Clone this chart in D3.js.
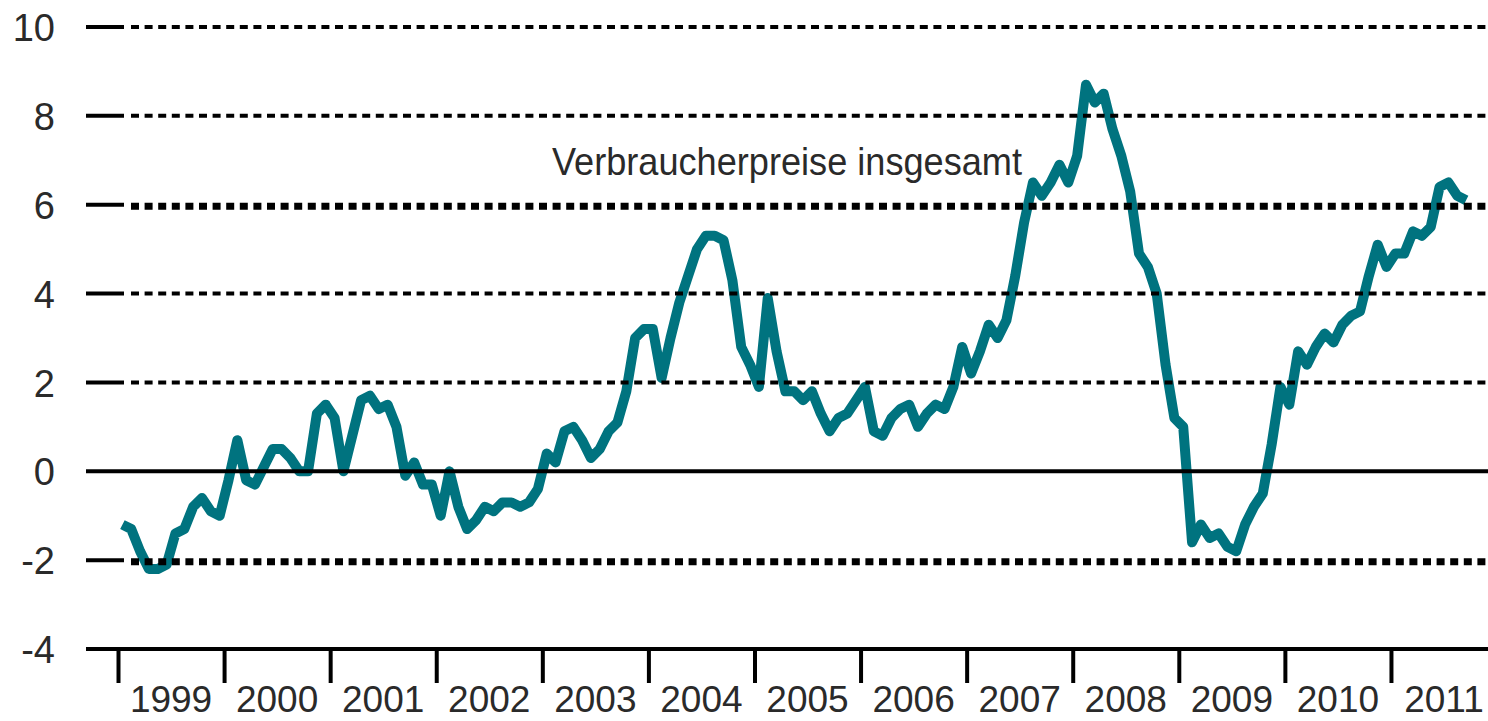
<!DOCTYPE html>
<html>
<head>
<meta charset="utf-8">
<script src="https://cdn.jsdelivr.net/npm/d3@7"></script>
<style>
  html, body { margin: 0; padding: 0; background: #fff; }
  svg { display: block; }
  text { font-family: "Liberation Sans", Arial, sans-serif; fill: #2a2a2a; }
</style>
</head>
<body>
<svg id="chart" width="1488" height="721"></svg>
<script>
// Verbraucherpreise insgesamt, Veränderung gegenüber Vorjahr in % (monthly)
const years = [1999, 2000, 2001, 2002, 2003, 2004, 2005, 2006, 2007, 2008, 2009, 2010, 2011];
const cpi1999 = [-1.2, -1.3, -1.8, -2.2, -2.2, -2.1, -1.4, -1.3, -0.8, -0.6, -0.9, -1.0];
const cpi2000 = [-0.2, 0.7, -0.2, -0.3, 0.1, 0.5, 0.5, 0.3, 0.0, 0.0, 1.3, 1.5];
const cpi2001 = [1.2, 0.0, 0.8, 1.6, 1.7, 1.4, 1.5, 1.0, -0.1, 0.2, -0.3, -0.3];
const cpi2002 = [-1.0, 0.0, -0.8, -1.3, -1.1, -0.8, -0.9, -0.7, -0.7, -0.8, -0.7, -0.4];
const cpi2003 = [0.4, 0.2, 0.9, 1.0, 0.7, 0.3, 0.5, 0.9, 1.1, 1.8, 3.0, 3.2];
const cpi2004 = [3.2, 2.1, 3.0, 3.8, 4.4, 5.0, 5.3, 5.3, 5.2, 4.3, 2.8, 2.4];
const cpi2005 = [1.9, 3.9, 2.7, 1.8, 1.8, 1.6, 1.8, 1.3, 0.9, 1.2, 1.3, 1.6];
const cpi2006 = [1.9, 0.9, 0.8, 1.2, 1.4, 1.5, 1.0, 1.3, 1.5, 1.4, 1.9, 2.8];
const cpi2007 = [2.2, 2.7, 3.3, 3.0, 3.4, 4.4, 5.6, 6.5, 6.2, 6.5, 6.9, 6.5];
const cpi2008 = [7.1, 8.7, 8.3, 8.5, 7.7, 7.1, 6.3, 4.9, 4.6, 4.0, 2.4, 1.2];
const cpi2009 = [1.0, -1.6, -1.2, -1.5, -1.4, -1.7, -1.8, -1.2, -0.8, -0.5, 0.6, 1.9];
const cpi2010 = [1.5, 2.7, 2.4, 2.8, 3.1, 2.9, 3.3, 3.5, 3.6, 4.4, 5.1, 4.6];
const cpi2011 = [4.9, 4.9, 5.4, 5.3, 5.5, 6.4, 6.5, 6.2, 6.1];
const yTicks = [-4, -2, 0, 2, 4, 6, 8, 10];
const seriesLabel = "Verbraucherpreise insgesamt";

const seriesByYear = [cpi1999, cpi2000, cpi2001, cpi2002, cpi2003, cpi2004, cpi2005,
                      cpi2006, cpi2007, cpi2008, cpi2009, cpi2010, cpi2011];
const data = [];
seriesByYear.forEach((arr, yi) => {
  arr.forEach((v, m) => data.push({ t: years[yi] + (m + 0.5) / 12, v: v }));
});

const svg = d3.select("#chart");
const W = 1488;
const x = d3.scaleLinear().domain([1999, 2012]).range([118, 118 + 13 * 106.08]);
const y = d3.scaleLinear().domain([-4, 10]).range([649, 27]);

// data line
const line = d3.line().x(d => x(d.t)).y(d => y(d.v));
svg.append("path")
  .datum(data)
  .attr("d", line)
  .attr("fill", "none")
  .attr("stroke", "#00737f")
  .attr("stroke-width", 10)
  .attr("stroke-linejoin", "round")
  .attr("stroke-linecap", "butt");

// gridlines (drawn over the line as in the original)
const grid = svg.append("g");
yTicks.forEach(t => {
  const yy = y(t);
  if (t === 0 || t === -4) {
    grid.append("line").attr("x1", 86).attr("x2", W).attr("y1", yy).attr("y2", yy)
      .attr("stroke", "#000").attr("stroke-width", 4);
  } else {
    grid.append("line").attr("x1", 86).attr("x2", 124).attr("y1", yy).attr("y2", yy)
      .attr("stroke", "#000").attr("stroke-width", 4);
    const thick = (t === 6 || t === -2);
    grid.append("line").attr("x1", 131).attr("x2", W).attr("y1", yy + (thick ? 1.5 : 0)).attr("y2", yy + (thick ? 1.5 : 0))
      .attr("stroke", "#000").attr("stroke-width", thick ? 7 : 4)
      .attr("stroke-dasharray", "8,5.6");
  }
});

// y axis labels
const yAxis = d3.axisLeft(y).tickValues(yTicks).tickSize(0).tickPadding(0)
  .tickFormat(d => String(d));
const yg = svg.append("g").attr("transform", "translate(55,0)").call(yAxis);
yg.select(".domain").remove();
yg.selectAll("text")
  .attr("font-size", 38)
  .attr("font-family", "Liberation Sans, Arial, sans-serif")
  .attr("fill", "#2a2a2a")
  .attr("dy", "0.36em");

// x axis ticks
const xAxis = d3.axisBottom(x).tickValues(years).tickSize(33).tickFormat("");
const xg = svg.append("g").attr("transform", "translate(0,650)").call(xAxis);
xg.select(".domain").remove();
xg.selectAll(".tick line").attr("stroke", "#000").attr("stroke-width", 4);

// x labels centred between ticks
svg.append("g").selectAll("text")
  .data(years)
  .join("text")
  .attr("x", d => x(d + 0.5))
  .attr("y", 712)
  .attr("text-anchor", "middle")
  .attr("font-size", 37)
  .text(d => d);

// series annotation
svg.append("text")
  .attr("x", 552)
  .attr("y", 175)
  .attr("font-size", 39)
  .attr("textLength", 470)
  .attr("lengthAdjust", "spacingAndGlyphs")
  .text(seriesLabel);
</script>
</body>
</html>
